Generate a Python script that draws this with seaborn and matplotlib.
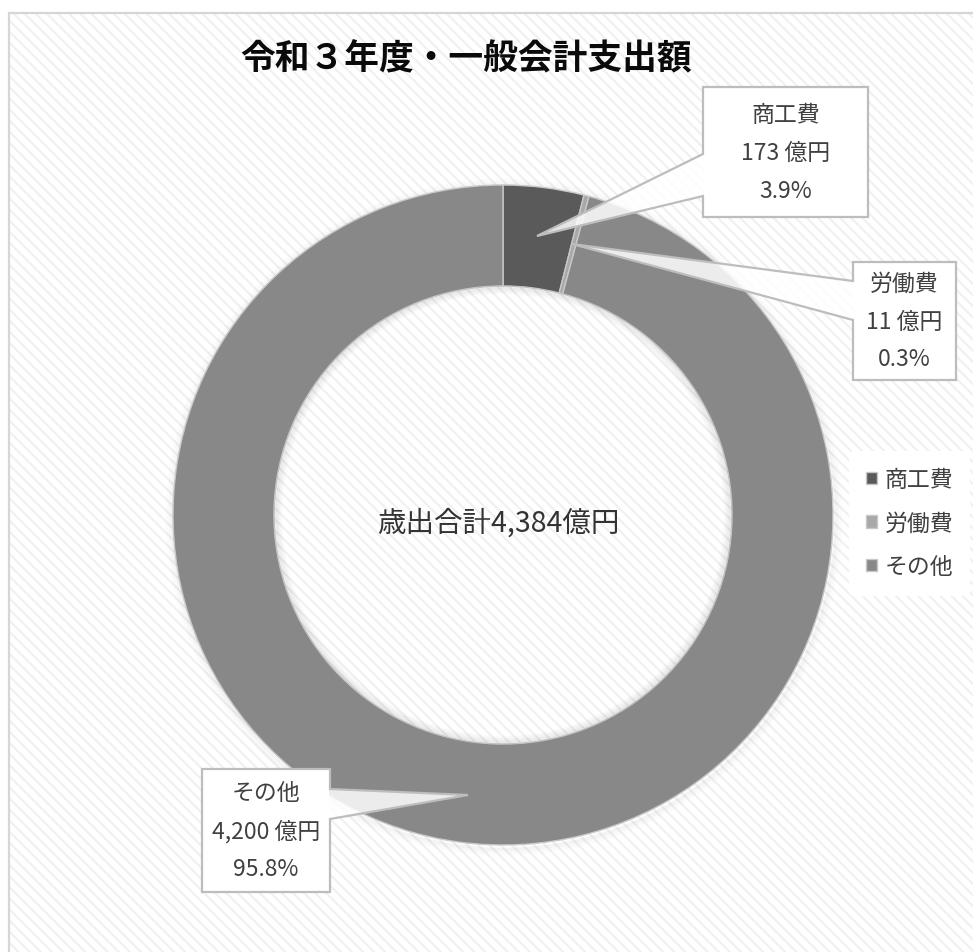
import matplotlib
matplotlib.use("Agg")
import matplotlib.pyplot as plt
import seaborn as sns
from matplotlib.patches import Rectangle, Polygon, Circle

# --- data -------------------------------------------------------------
categories = ["商工費", "労働費", "その他"]
amounts = [173, 11, 4200]          # 億円
colors = ["#5a5a5a", "#a8a8a8", "#888888"]
title = "令和３年度・一般会計支出額"
unit = "億円"

total = sum(amounts)

# --- style ------------------------------------------------------------
sns.set_theme(style="white")
plt.rcParams["font.family"] = ["Noto Sans CJK JP", "DejaVu Sans"]
plt.rcParams["hatch.linewidth"] = 1.5
palette = sns.color_palette(colors)

W, H = 973, 953
fig = plt.figure(figsize=(W / 100, H / 100), dpi=100)
ax = fig.add_axes([0, 0, 1, 1])


def Y(y):
    """convert top-down pixel row into axis y"""
    return H - y


# chart area: hatched background with a light frame
ax.add_patch(Rectangle((9, Y(1000)), 1000, 1000 - 14, facecolor="white",
                       edgecolor="#f0f0f0", linewidth=0, hatch="\\\\\\", zorder=0))
ax.add_patch(Rectangle((9, Y(1000)), 1000, 1000 - 14, facecolor="none",
                       edgecolor="#d6d6d6", linewidth=1.6, zorder=0.5))

cx, cy, r_out, r_in = 503, Y(516), 330, 229

# soft shadows around the ring
for i in range(8):
    ax.add_patch(Circle((cx + 1, cy - 2), r_out + 1 + i, facecolor="none",
                        edgecolor="black", linewidth=1.5, alpha=0.025 * (8 - i) / 8, zorder=1))
    ax.add_patch(Circle((cx, cy), r_in - 1 - i, facecolor="none",
                        edgecolor="black", linewidth=1.5, alpha=0.045 * (8 - i) / 8, zorder=3))

wedges, _ = ax.pie(amounts, colors=palette, startangle=90, counterclock=False,
                   radius=r_out, center=(cx, cy),
                   wedgeprops=dict(width=r_out - r_in, edgecolor="#c8c8c8",
                                   linewidth=1.0))
for w in wedges:
    w.set_zorder(2)

ax.set_xlim(0, W)
ax.set_ylim(0, H)
ax.set_aspect("auto")
ax.axis("off")

ax.text(466, Y(59), title, ha="center", va="center", fontsize=25,
        fontweight="bold", color="#0a0a0a", zorder=6)

ax.text(498, Y(524), f"歳出合計{total:,}{unit}", ha="center", va="center",
        fontsize=20.5, color="#333333", zorder=6)

# callouts: box (x0, y0, x1, y1), pointer base on box edge, tip
callouts = [
    dict(box=(703, 88, 868, 218), base=[(703, 155), (703, 197)], tip=(537, 237), side="left"),
    dict(box=(853, 263, 956, 381), base=[(853, 282), (853, 321)], tip=(572, 245), side="left"),
    dict(box=(202, 770, 330, 893), base=[(330, 820), (330, 790)], tip=(468, 796), side="right"),
]

for (cat, val), c in zip(zip(categories, amounts), callouts):
    x0, y0, x1, y1 = c["box"]
    (bx0, by0), (bx1, by1) = c["base"]
    tx, ty = c["tip"]
    if c["side"] == "left":
        pts = [(x0, y0), (x1, y0), (x1, y1), (x0, y1), (bx1, by1), (tx, ty), (bx0, by0)]
    else:
        pts = [(x0, y0), (x1, y0), (bx1, by1), (tx, ty), (bx0, by0), (x1, y1), (x0, y1)]
    ax.add_patch(Polygon([(px, Y(py)) for px, py in pts], closed=True,
                         facecolor="white", alpha=0.85, edgecolor="none", zorder=4))
    ax.add_patch(Polygon([(px, Y(py)) for px, py in pts], closed=True,
                         facecolor="none", edgecolor="#bdbdbd", linewidth=1.6, zorder=5))
    ax.add_patch(Rectangle((x0 + 1, Y(y1) + 1), x1 - x0 - 2, y1 - y0 - 2,
                           facecolor="white", edgecolor="none", zorder=4.5))
    xm = (x0 + x1) / 2
    ym = (y0 + y1) / 2
    pct = val / total * 100
    for k, line in enumerate([cat, f"{val:,} {unit}", f"{pct:.1f}%"]):
        ax.text(xm, Y(ym + (k - 1) * 38), line, ha="center", va="center",
                fontsize=16.5, color="#404040", zorder=6)

leg = ax.legend(wedges, categories, loc="upper left",
                bbox_to_anchor=(849 / W, 1 - 452 / H), frameon=True,
                fontsize=16.5, handlelength=0.45, handleheight=0.45,
                handletextpad=0.35, labelspacing=0.9, borderpad=0.75,
                borderaxespad=0, labelcolor="#404040")
leg.get_frame().set_facecolor("white")
leg.get_frame().set_edgecolor("none")
leg.get_frame().set_alpha(1)
leg.set_zorder(6)

fig.savefig("out.png", dpi=100)
